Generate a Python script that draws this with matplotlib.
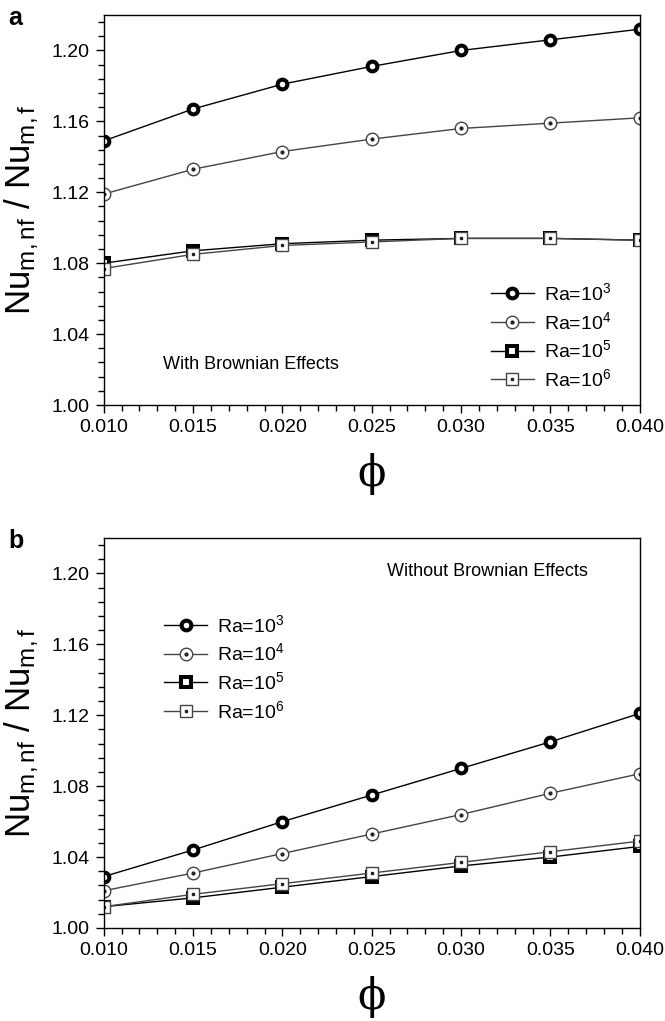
import matplotlib
matplotlib.use('Agg')
import matplotlib.pyplot as plt
from matplotlib.ticker import MultipleLocator, FormatStrFormatter

plt.rcParams['font.family'] = ['Liberation Sans', 'DejaVu Sans']
plt.rcParams['mathtext.fontset'] = 'custom'
plt.rcParams['mathtext.rm'] = 'Liberation Sans'
plt.rcParams['mathtext.it'] = 'Liberation Sans:italic'

#------------------------------------------------
# data
phi = [0.010, 0.015, 0.020, 0.025, 0.030, 0.035, 0.040]

# (a) with Brownian effects
a_ra3 = [1.149, 1.167, 1.181, 1.191, 1.200, 1.206, 1.212]
a_ra4 = [1.119, 1.133, 1.143, 1.150, 1.156, 1.159, 1.162]
a_ra5 = [1.080, 1.087, 1.091, 1.093, 1.094, 1.094, 1.093]
a_ra6 = [1.077, 1.085, 1.090, 1.092, 1.094, 1.094, 1.093]

# (b) without Brownian effects
b_ra3 = [1.029, 1.044, 1.060, 1.075, 1.090, 1.105, 1.121]
b_ra4 = [1.021, 1.031, 1.042, 1.053, 1.064, 1.076, 1.087]
b_ra5 = [1.012, 1.017, 1.023, 1.029, 1.035, 1.040, 1.046]
b_ra6 = [1.012, 1.019, 1.025, 1.031, 1.037, 1.043, 1.049]

labels = [r'Ra=10$^{3}$', r'Ra=10$^{4}$', r'Ra=10$^{5}$', r'Ra=10$^{6}$']

#------------------------------------------------
fig = plt.figure(figsize=(6.65, 10.21), dpi=100)
ax_a = fig.add_axes([0.156, 0.6033, 0.806, 0.382])
ax_b = fig.add_axes([0.156, 0.0911, 0.806, 0.382])


def draw(ax, series):
    handles = []
    # Ra=1e3 : thick black ring
    l, = ax.plot(phi, series[0], color='black', lw=1.0, marker='o', ms=7,
                 mfc='white', mec='black', mew=2.9)
    handles.append(l)
    # Ra=1e4 : open grey circle with centre dot
    l, = ax.plot(phi, series[1], color='#444444', lw=1.0, marker='o', ms=9,
                 mfc='white', mec='#444444', mew=1.0)
    d, = ax.plot(phi, series[1], ls='none', marker='o', ms=2, color='#222222')
    handles.append((l, d))
    # Ra=1e5 : thick black square
    l, = ax.plot(phi, series[2], color='black', lw=1.0, marker='s', ms=7,
                 mfc='white', mec='black', mew=2.9)
    handles.append(l)
    # Ra=1e6 : open grey square with centre dot
    l, = ax.plot(phi, series[3], color='#444444', lw=1.0, marker='s', ms=8.5,
                 mfc='white', mec='#444444', mew=1.0)
    d, = ax.plot(phi, series[3], ls='none', marker='s', ms=2, color='#222222')
    handles.append((l, d))

    ax.set_xlim(0.010, 0.040)
    ax.set_ylim(1.00, 1.22)
    ax.xaxis.set_major_locator(MultipleLocator(0.005))
    ax.xaxis.set_minor_locator(MultipleLocator(0.001))
    ax.yaxis.set_major_locator(MultipleLocator(0.04))
    ax.yaxis.set_minor_locator(MultipleLocator(0.008))
    ax.xaxis.set_major_formatter(FormatStrFormatter('%.3f'))
    ax.yaxis.set_major_formatter(FormatStrFormatter('%.2f'))
    ax.tick_params(which='both', direction='out', top=False, right=False,
                   labelsize=14, width=1.0)
    ax.tick_params(which='major', length=6, pad=4)
    ax.tick_params(which='minor', length=4)
    for s in ax.spines.values():
        s.set_linewidth(1.0)
    ax.set_ylabel(r'Nu$_{\mathrm{m,nf}}$ / Nu$_{\mathrm{m,f}}$', fontsize=25,
                  labelpad=8)
    ax.set_xlabel('ϕ', fontsize=30, family='DejaVu Serif', labelpad=12)
    return handles


h = draw(ax_a, [a_ra3, a_ra4, a_ra5, a_ra6])
ax_a.legend(h, labels, loc='upper left', bbox_to_anchor=(0.69, 0.36),
            frameon=False, fontsize=14, handlelength=2.2, labelspacing=0.35,
            handletextpad=0.5)
ax_a.text(0.275, 0.105, 'With Brownian Effects', transform=ax_a.transAxes,
          fontsize=13, ha='center', va='center')
fig.text(0.013, 0.982, 'a', fontsize=18, fontweight='bold', va='center')

h = draw(ax_b, [b_ra3, b_ra4, b_ra5, b_ra6])
ax_b.legend(h, labels, loc='upper left', bbox_to_anchor=(0.08, 0.85),
            frameon=False, fontsize=14, handlelength=2.2, labelspacing=0.35,
            handletextpad=0.5)
ax_b.text(0.715, 0.915, 'Without Brownian Effects', transform=ax_b.transAxes,
          fontsize=13, ha='center', va='center')
fig.text(0.013, 0.470, 'b', fontsize=18, fontweight='bold', va='center')

plt.savefig('out.png', dpi=100)
